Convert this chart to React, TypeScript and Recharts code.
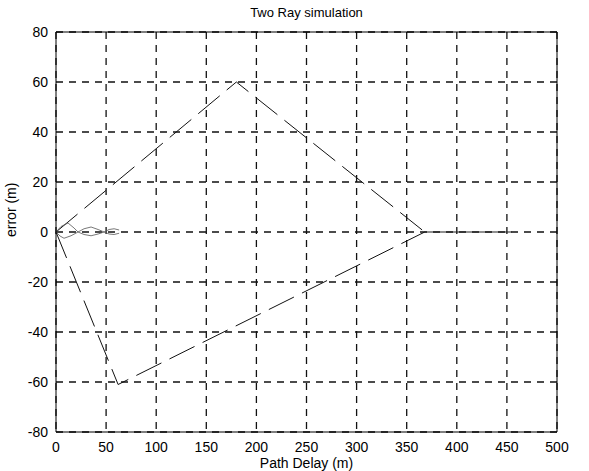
import React from "react";
import {
  LineChart,
  Line,
  XAxis,
  YAxis,
  CartesianGrid,
  ReferenceLine,
} from "recharts";

// path delay ticks / error ticks
const xTicks = [0, 50, 100, 150, 200, 250, 300, 350, 400, 450, 500];
const yTicks = [-80, -60, -40, -20, 0, 20, 40, 60, 80];

// upper error envelope (m)
const upperBound = [
  { x: 0, y: 0 },
  { x: 180, y: 60 },
  { x: 368, y: 0 },
];

// lower error envelope (m)
const lowerBound = [
  { x: 0, y: 0 },
  { x: 62, y: -61 },
  { x: 368, y: 0 },
];

// beyond ~370 m the error is zero
const tail = [
  { x: 368, y: 0 },
  { x: 455, y: 0 },
];

// small ripples near zero delay
const rippleUp = [
  { x: 0, y: 0 },
  { x: 5, y: 2.2 },
  { x: 12, y: 3.6 },
  { x: 18, y: 1.6 },
  { x: 22, y: 0 },
  { x: 28, y: 1.3 },
  { x: 35, y: 2 },
  { x: 42, y: 1 },
  { x: 48, y: 0 },
  { x: 53, y: 1 },
  { x: 58, y: 1.3 },
  { x: 63, y: 0.8 },
];

const rippleDown = [
  { x: 0, y: 0 },
  { x: 4, y: -1.6 },
  { x: 8, y: -2.5 },
  { x: 15, y: -1.5 },
  { x: 22, y: 0 },
  { x: 28, y: -1 },
  { x: 35, y: -1.5 },
  { x: 42, y: -0.8 },
  { x: 48, y: 0 },
  { x: 53, y: -0.8 },
  { x: 58, y: -1 },
  { x: 63, y: -0.5 },
];

const font = "'Liberation Sans', Arial, sans-serif";
const tick = { fill: "#000", fontSize: 14, fontFamily: font };

export default function App() {
  return (
    <div style={{ position: "absolute", left: 0, top: 0, width: 589, height: 471, background: "#fff" }}>
      <div
        style={{
          position: "absolute",
          top: 5,
          left: 56,
          width: 501,
          textAlign: "center",
          fontFamily: font,
          fontSize: 13,
          color: "#000",
        }}
      >
        Two Ray simulation
      </div>
      <LineChart
        width={589}
        height={471}
        margin={{ top: 32, right: 32, bottom: 0, left: 16 }}
      >
        <CartesianGrid stroke="#111" strokeWidth={1.3} strokeDasharray="7 6" />
        <XAxis
          type="number"
          dataKey="x"
          domain={[0, 500]}
          ticks={xTicks}
          height={39}
          tick={tick}
          tickLine={false}
          tickMargin={4}
          axisLine={{ stroke: "#000" }}
          allowDuplicatedCategory={false}
          label={{ value: "Path Delay (m)", position: "insideBottom", offset: 3, fill: "#000", fontSize: 14, fontFamily: font }}
        />
        <YAxis
          type="number"
          dataKey="y"
          domain={[-80, 80]}
          ticks={yTicks}
          width={40}
          tick={tick}
          tickLine={false}
          axisLine={{ stroke: "#000" }}
          label={{ value: "error (m)", angle: -90, position: "insideLeft", offset: -5, dy: 5, fill: "#000", fontSize: 14, fontFamily: font }}
        />
        <ReferenceLine y={80} stroke="#000" />
        <ReferenceLine x={500} stroke="#000" />
        <Line data={upperBound} dataKey="y" stroke="#111" strokeWidth={1} strokeDasharray="28 9" dot={false} isAnimationActive={false} />
        <Line data={lowerBound} dataKey="y" stroke="#111" strokeWidth={1} strokeDasharray="28 9" dot={false} isAnimationActive={false} />
        <Line data={tail} dataKey="y" stroke="#222" strokeWidth={1.2} dot={false} isAnimationActive={false} />
        <Line data={rippleUp} dataKey="y" stroke="#555" strokeWidth={0.8} dot={false} isAnimationActive={false} />
        <Line data={rippleDown} dataKey="y" stroke="#555" strokeWidth={0.8} dot={false} isAnimationActive={false} />
      </LineChart>
    </div>
  );
}
